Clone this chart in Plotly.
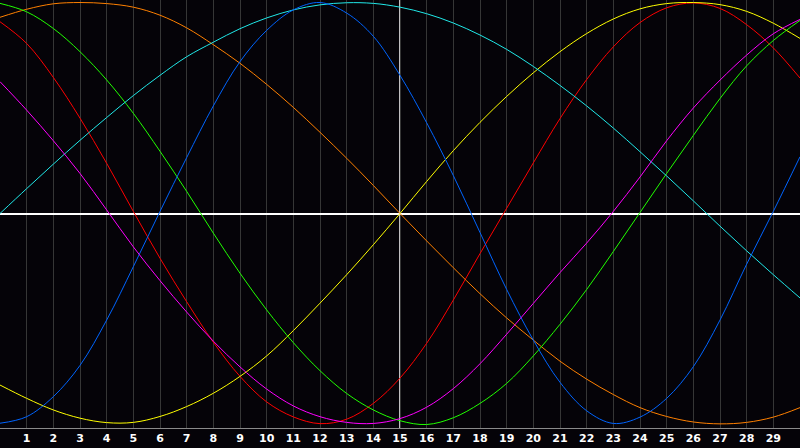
import plotly.graph_objects as go

x_vals = list(range(0, 31))
tick_vals = list(range(1, 30))
tick_text = [str(v) for v in tick_vals]
crosshair_x = 15

red = [0.909, 0.806, 0.645, 0.452, 0.238, 0.01, -0.212, -0.418, -0.61, -0.772,
       -0.893, -0.964, -0.996, -0.975, -0.9, -0.78, -0.615, -0.41, -0.19, 0.025,
       0.24, 0.45, 0.635, 0.79, 0.905, 0.975, 0.998, 0.972, 0.895, 0.785, 0.642]
orange = [0.93, 0.968, 0.994, 1.0, 0.995, 0.978, 0.94, 0.88, 0.80, 0.712,
          0.612, 0.503, 0.385, 0.262, 0.133, 0.0, -0.13, -0.257, -0.38, -0.495,
          -0.6, -0.70, -0.785, -0.858, -0.92, -0.962, -0.988, -0.997, -0.99, -0.965, -0.92]
yellow = [-0.813, -0.876, -0.931, -0.97, -0.991, -0.99, -0.962, -0.915, -0.852, -0.772,
          -0.675, -0.555, -0.425, -0.29, -0.148, 0.0, 0.152, 0.298, 0.432, 0.555,
          0.667, 0.767, 0.853, 0.922, 0.97, 0.995, 1.0, 0.99, 0.958, 0.902, 0.83]
green = [0.996, 0.956, 0.877, 0.767, 0.633, 0.475, 0.295, 0.105, -0.093, -0.283,
         -0.457, -0.612, -0.745, -0.853, -0.931, -0.982, -1.0, -0.968, -0.9, -0.805,
         -0.675, -0.525, -0.36, -0.18, 0.005, 0.19, 0.37, 0.545, 0.70, 0.82, 0.915]
cyan = [0.0, 0.118, 0.234, 0.347, 0.455, 0.559, 0.655, 0.743, 0.812, 0.876,
        0.927, 0.965, 0.989, 0.999, 0.996, 0.978, 0.947, 0.903, 0.846, 0.778,
        0.697, 0.607, 0.51, 0.405, 0.293, 0.178, 0.06, -0.06, -0.177, -0.29, -0.40]
blue = [-0.994, -0.963, -0.868, -0.72, -0.505, -0.252, 0.01, 0.265, 0.51, 0.72,
        0.868, 0.965, 1.0, 0.95, 0.84, 0.655, 0.43, 0.18, -0.09, -0.36,
        -0.6, -0.8, -0.935, -0.995, -0.965, -0.876, -0.726, -0.505, -0.24, 0.01, 0.269]
magenta = [0.625, 0.49, 0.345, 0.19, 0.017, -0.158, -0.318, -0.467, -0.605, -0.727,
           -0.832, -0.912, -0.963, -0.99, -0.995, -0.972, -0.918, -0.83, -0.712, -0.572,
           -0.426, -0.28, -0.14, 0.01, 0.173, 0.345, 0.5, 0.632, 0.751, 0.852, 0.92]

series = [
    ("red", red, "#ff0000"),
    ("orange", orange, "#ff8000"),
    ("yellow", yellow, "#ffff00"),
    ("green", green, "#20ff00"),
    ("cyan", cyan, "#20e8e8"),
    ("blue", blue, "#0064ff"),
    ("magenta", magenta, "#ff00ff"),
]

fig = go.Figure()
for name, ys, col in series:
    fig.add_trace(go.Scatter(x=x_vals, y=ys, mode="lines", name=name,
                             line=dict(color=col, width=1, shape="spline", smoothing=1.0),
                             hoverinfo="skip"))

fig.add_shape(type="line", xref="x", yref="paper", x0=crosshair_x, x1=crosshair_x,
              y0=0, y1=1, line=dict(color="#ffffff", width=1.5), layer="below")

fig.update_layout(
    width=800, height=448,
    margin=dict(l=0, r=0, t=0, b=20),
    paper_bgcolor="#050308", plot_bgcolor="#050308",
    showlegend=False,
    xaxis=dict(range=[0, 30], tickvals=tick_vals, ticktext=tick_text,
               showgrid=True, gridcolor="#363636", gridwidth=1,
               zeroline=False, showline=True, linecolor="#8a8a8a", linewidth=1,
               mirror=True, ticks="",
               tickfont=dict(family="DejaVu Sans", size=11, color="#ffffff", weight="bold")),
    yaxis=dict(range=[-1.0166, 1.012], showgrid=False, showticklabels=False,
               zeroline=True, zerolinecolor="#ffffff", zerolinewidth=1.5,
               showline=True, linecolor="#8a8a8a", linewidth=1, mirror=True, ticks=""),
)

fig.write_html("out.html", config={"displayModeBar": False},
               post_script="document.body.style.margin='0';document.body.style.background='#050308';")
